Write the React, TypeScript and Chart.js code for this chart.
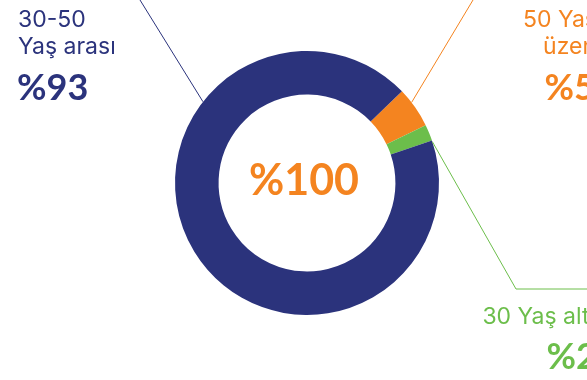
import React, { useEffect, useRef } from "react";
import { Chart, registerables } from "chart.js";

Chart.register(...registerables);

const categories = ["50 Yaş üzeri", "30 Yaş altı", "30-50 Yaş arası"];
const values = [5, 2, 93];
const colors = ["#F48420", "#6CBE4B", "#2B337C"];
const centerText = "%100";

const NAVY = "#2B337C";
const ORANGE = "#F48420";
const GREEN = "#6CBE4B";
const FONT = "Inter, 'Noto Sans', sans-serif";
const BFONT = "Lato, sans-serif";

const labelPlugin = {
  id: "labels",
  afterDraw(chart: any) {
    const ctx = chart.ctx;
    const arc = chart.getDatasetMeta(0).data[0];
    if (!arc) return;
    const cx = arc.x;
    const cy = arc.y;
    const R = arc.outerRadius;
    const pt = (deg: number) => {
      const a = (deg * Math.PI) / 180;
      return [cx + R * Math.sin(a), cy - R * Math.cos(a)];
    };
    ctx.save();
    ctx.lineWidth = 1;
    let p = pt(308);
    ctx.strokeStyle = NAVY;
    ctx.beginPath();
    ctx.moveTo(p[0], p[1]);
    ctx.lineTo(140, 0);
    ctx.stroke();
    p = pt(52.4);
    ctx.strokeStyle = ORANGE;
    ctx.beginPath();
    ctx.moveTo(p[0], p[1]);
    ctx.lineTo(473, 0);
    ctx.stroke();
    p = pt(71.8);
    ctx.strokeStyle = GREEN;
    ctx.beginPath();
    ctx.moveTo(p[0], p[1]);
    ctx.lineTo(516, 289);
    ctx.lineTo(600, 289);
    ctx.stroke();

    ctx.fillStyle = ORANGE;
    ctx.font = `bold 43px ${BFONT}`;
    ctx.textAlign = "center";
    ctx.textBaseline = "middle";
    ctx.fillText(centerText, cx - 3, cy - 2);

    ctx.textBaseline = "alphabetic";
    ctx.textAlign = "left";
    ctx.fillStyle = NAVY;
    ctx.font = `400 23px ${FONT}`;
    ctx.fillText("30-50", 18, 27);
    ctx.fillText("Yaş arası", 18, 54);
    ctx.font = `bold 36px ${BFONT}`;
    ctx.fillText(`%${values[2]}`, 17, 100);

    ctx.textAlign = "right";
    ctx.fillStyle = ORANGE;
    ctx.font = `400 23px ${FONT}`;
    ctx.fillText("50 Yaş", 597, 27);
    ctx.fillText("üzeri", 597, 54);
    ctx.font = `bold 36px ${BFONT}`;
    ctx.fillText(`%${values[0]}`, 595, 100);

    ctx.fillStyle = GREEN;
    ctx.font = `400 23px ${FONT}`;
    ctx.fillText("30 Yaş altı", 595, 324);
    ctx.font = `bold 36px ${BFONT}`;
    ctx.fillText(`%${values[1]}`, 597, 369);
    ctx.restore();
  },
};

export default function App() {
  const ref = useRef<HTMLCanvasElement>(null);
  useEffect(() => {
    if (!ref.current) return;
    const chart = new Chart(ref.current, {
      type: "doughnut",
      data: {
        labels: categories,
        datasets: [
          {
            data: values,
            backgroundColor: colors,
            borderWidth: 0,
          },
        ],
      },
      options: {
        responsive: false,
        animation: false,
        rotation: 46,
        cutout: "67%",
        layout: { padding: { left: 175, right: 148, top: 51, bottom: 65 } },
        plugins: { legend: { display: false }, tooltip: { enabled: false } },
      },
      plugins: [labelPlugin],
    });
    return () => chart.destroy();
  }, []);
  return (
    <div style={{ position: "fixed", left: 0, top: 0, width: 587, height: 380, background: "#fff" }}>
      <canvas ref={ref} width={587} height={380} />
    </div>
  );
}
